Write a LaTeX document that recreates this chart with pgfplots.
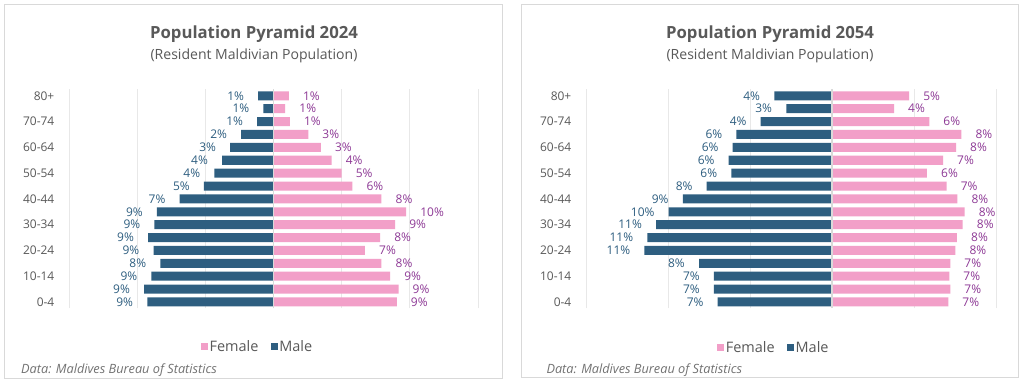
\documentclass[border=0pt]{standalone}
\usepackage{pgfplots}
\pgfplotsset{compat=1.18}
\usepackage{pgfplotstable}
\usepackage{fontspec}
\setmainfont{Open Sans}
\definecolor{maleblue}{HTML}{2E5E80}
\definecolor{femalepink}{HTML}{F29FC8}
\definecolor{malelab}{HTML}{2E5E80}
\definecolor{femlab}{HTML}{8E3A96}
\definecolor{textgray}{HTML}{595959}
\definecolor{gridgray}{HTML}{E8E8E8}
\definecolor{bordergray}{HTML}{D9D9D9}

\pgfplotstableread{
y male female mlab flab
0 -9.26 9.04 9 9
1 -9.49 9.17 9 9
2 -8.95 8.55 9 9
3 -8.30 7.92 8 8
4 -8.80 6.71 9 7
5 -9.20 7.82 9 8
6 -8.73 8.92 9 9
7 -8.55 9.73 9 10
8 -6.89 7.92 7 8
9 -5.10 5.78 5 6
10 -4.34 5.00 4 5
11 -3.77 4.26 4 4
12 -3.18 3.48 3 3
13 -2.37 2.55 2 3
14 -1.20 1.20 1 1
15 -0.74 0.86 1 1
16 -1.12 1.13 1 1
}\dataA

\pgfplotstableread{
y male female mlab flab
0 -6.97 7.09 7 7
1 -7.20 7.21 7 7
2 -7.20 7.15 7 7
3 -8.11 7.21 8 7
4 -11.44 7.52 11 8
5 -11.26 7.62 11 8
6 -10.73 7.97 11 8
7 -9.96 8.09 10 8
8 -9.10 7.64 9 8
9 -7.64 6.99 8 7
10 -6.14 5.79 6 6
11 -6.30 6.77 6 7
12 -6.06 7.56 6 8
13 -5.83 7.89 6 8
14 -4.35 5.93 4 6
15 -2.79 3.78 3 4
16 -3.52 4.70 4 5
}\dataB

\newcommand{\lblfont}{\fontsize{12}{14}\selectfont}

\pgfplotsset{pyr/.style={
  scale only axis, height=219bp,
  ymin=-0.5, ymax=16.5,
  xbar, bar width=0.7, bar shift=0pt,
  axis line style={draw=none},
  major tick length=0pt,
  xtick={-15,-10,...,15}, xticklabels={},
  xmajorgrids, grid style={gridgray, line width=1bp},
  ytick={0,2,...,16},
  yticklabels={0-4,10-14,20-24,30-34,40-44,50-54,60-64,70-74,80+},
  yticklabel style={font=\lblfont, text=textgray, inner sep=0pt, xshift=-14.5bp},
  point meta=explicit symbolic,
  legend columns=2,
  legend image code/.code={\fill[##1] (0bp,-3.5bp) rectangle (7bp,3.5bp);},
  legend style={draw=none, fill=none, inner sep=0pt, font=\fontsize{14.5}{16}\selectfont, text=textgray,
    nodes={inner sep=1.5bp},
    /tikz/every even column/.append style={column sep=11bp}},
}}

\begin{document}
\begin{tikzpicture}[x=1bp,y=1bp]
\useasboundingbox (0,0) rectangle (1024,383);
\fill[white] (0,0) rectangle (1024,383);
\draw[bordergray, line width=1bp] (4.7,4.7) rectangle (502.7,378.3);
\draw[bordergray, line width=1bp] (521.3,5.3) rectangle (1018.7,378.3);

\node[font=\bfseries\fontsize{16.8}{19}\selectfont, text=textgray] at (254,349.2) {Population Pyramid 2024};
\node[font=\fontsize{14.1}{16}\selectfont, text=textgray] at (254,327.5) {(Resident Maldivian Population)};
\node[font=\bfseries\fontsize{16.8}{19}\selectfont, text=textgray] at (770,349.2) {Population Pyramid 2054};
\node[font=\fontsize{14.1}{16}\selectfont, text=textgray] at (770,327.5) {(Resident Maldivian Population)};

\node[anchor=west, inner sep=0pt, font=\itshape\fontsize{12.8}{14}\selectfont, text=textgray!85] at (21,12.4) {Data: Maldives Bureau of Statistics};
\node[anchor=west, inner sep=0pt, font=\itshape\fontsize{12.8}{14}\selectfont, text=textgray!85] at (546.3,12.4) {Data: Maldives Bureau of Statistics};

\begin{axis}[pyr, at={(69bp,74.6bp)}, anchor=south west, width=409bp,
  xmin=-15, xmax=15,
  legend style={at={(axis description cs:0.4606,-0.1749)}, anchor=center}]
\addplot[fill=femalepink, draw=none, nodes near coords={\pgfplotspointmeta\%},
  every node near coord/.append style={anchor=west, xshift=14bp, inner sep=0pt, text=femlab, font=\lblfont}]
  table[x=female, y=y, meta=flab]{\dataA};
\addplot[fill=maleblue, draw=none, nodes near coords={\pgfplotspointmeta\%},
  every node near coord/.append style={anchor=east, xshift=-14bp, inner sep=0pt, text=malelab, font=\lblfont}]
  table[x=male, y=y, meta=mlab]{\dataA};
\legend{Female, Male}
\draw[bordergray, line width=1.5bp] (axis cs:0,-0.5) -- (axis cs:0,16.5);
\end{axis}

\begin{axis}[pyr, at={(586bp,74.6bp)}, anchor=south west, width=410bp,
  xmin=-15, xmax=10,
  legend style={at={(axis description cs:0.4578,-0.1776)}, anchor=center}]
\addplot[fill=femalepink, draw=none, nodes near coords={\pgfplotspointmeta\%},
  every node near coord/.append style={anchor=west, xshift=14bp, inner sep=0pt, text=femlab, font=\lblfont}]
  table[x=female, y=y, meta=flab]{\dataB};
\addplot[fill=maleblue, draw=none, nodes near coords={\pgfplotspointmeta\%},
  every node near coord/.append style={anchor=east, xshift=-14bp, inner sep=0pt, text=malelab, font=\lblfont}]
  table[x=male, y=y, meta=mlab]{\dataB};
\legend{Female, Male}
\draw[bordergray, line width=1.5bp] (axis cs:0,-0.5) -- (axis cs:0,16.5);
\end{axis}
\end{tikzpicture}
\end{document}
